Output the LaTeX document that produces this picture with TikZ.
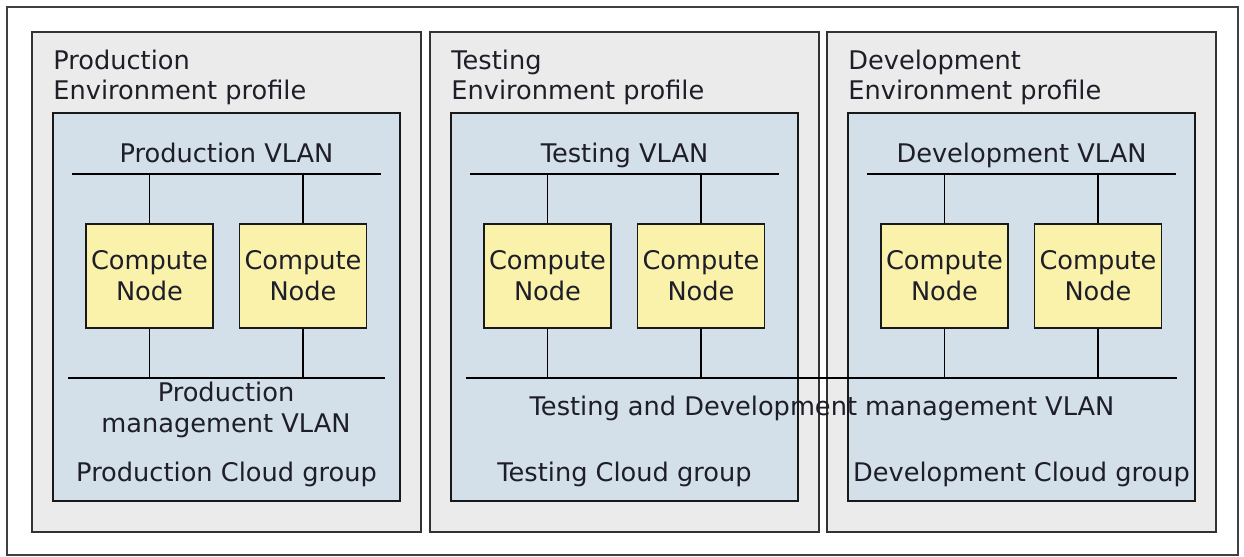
\documentclass[tikz,border=0pt]{standalone}
\usepackage{fontspec}
\setmainfont{DejaVu Sans}
\usetikzlibrary{positioning}
\definecolor{panelgray}{HTML}{EBEBEB}
\definecolor{groupblue}{HTML}{D3DFE9}
\definecolor{nodeyellow}{HTML}{FAF1AB}
\definecolor{ink}{HTML}{1E1E28}
\tikzset{
  panel/.style={draw=black!80, line width=1.1pt, fill=panelgray},
  group/.style={draw=black!90, line width=1.1pt, fill=groupblue},
  lbl/.style={text=ink, inner sep=0pt, font=\fontsize{14.6}{17.6}\selectfont},
  compute/.style={lbl, draw=black!90, line width=1.1pt, fill=nodeyellow, minimum width=2.54cm, minimum height=2.08cm, align=center},
  vlan/.style={line width=1.1pt}
}
\begin{document}
\begin{tikzpicture}[x=0.02cm, y=-0.02cm]
\useasboundingbox (0,0) rectangle (1244,557);
\draw[black!75, line width=1pt] (7,7) rectangle (1238,555);
\foreach \x/\n/\t in {32/prod/Production, 430/test/Testing, 827/dev/Development}{
\draw[panel] (\x,32) rectangle ++(389,500);
\draw[group] (\x+21,113) rectangle ++(347,388);
\node[lbl, anchor=base west, align=left] (\n-title) at (\x+21,100) {\t\\Environment profile};
\node[lbl, anchor=base] (\n-vlan) at (\x+194.5,163) {\t{} VLAN};
\coordinate (\n-l) at (\x+40,174);
\coordinate (\n-r) at (\x+349,174);
\draw[vlan] (\n-l) -- (\n-r);
\node[compute] (\n-a) at (\x+117.5,276) {Compute\\Node};
\node[compute] (\n-b) at (\x+271,276) {Compute\\Node};
\draw[vlan] (\n-a.north) -- (\n-a.north |- \n-l);
\draw[vlan] (\n-b.north) -- (\n-b.north |- \n-l);
\node[lbl, anchor=base] (\n-group) at (\x+194.5,481) {\t{} Cloud group};
}
\coordinate (pm-l) at (68,378);
\coordinate (pm-r) at (385,378);
\coordinate (tdm-l) at (466,378);
\coordinate (tdm-r) at (1177,378);
\draw[vlan] (pm-l) -- (pm-r);
\draw[vlan] (tdm-l) -- (tdm-r);
\foreach \n in {prod-a, prod-b}{
\draw[vlan] (\n.south) -- (\n.south |- pm-l);
}
\foreach \n in {test-a, test-b, dev-a, dev-b}{
\draw[vlan] (\n.south) -- (\n.south |- tdm-l);
}
\node[lbl, anchor=base, align=center] (pm) at (226,432) {Production\\management VLAN};
\node[lbl, anchor=base] (tdm) at (822,415) {Testing and Development management VLAN};
\end{tikzpicture}
\end{document}
